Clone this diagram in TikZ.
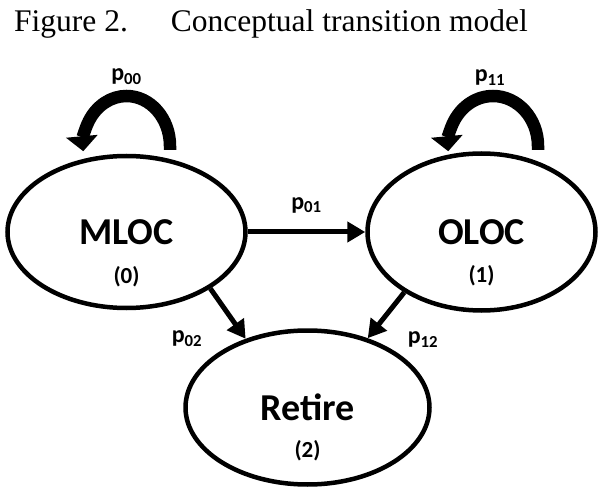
\documentclass[tikz,border=0pt]{standalone}
\usepackage{fontspec}
\setmainfont{Liberation Serif}
\newfontfamily\statefont{Carlito}
\usetikzlibrary{shapes,arrows.meta,positioning}

% transition probability label
\newcommand{\prob}[1]{p\textsubscript{#1}}

\begin{document}
\begin{tikzpicture}[x=1pt, y=1pt, node distance=355pt,
    state/.style={ellipse, draw, line width=4.5pt, minimum width=238pt, minimum height=152pt, inner sep=0pt, font=\statefont\bfseries\fontsize{38}{40}\selectfont},
    idx/.style={inner sep=0pt, font=\statefont\bfseries\fontsize{23}{25}\selectfont},
    prob/.style={inner sep=0pt, font=\statefont\bfseries\fontsize{24}{26}\selectfont},
    arrow/.style={-{Triangle[length=18pt, width=20pt]}, line width=5pt},
    selfloop/.style={-{Triangle[length=15pt, width=31pt]}, line width=12.5pt}]
  \useasboundingbox (0,0) rectangle (600,488);
  \node[anchor=base west, inner sep=0pt, font=\fontsize{31.5}{34}\selectfont] (title) at (14,456) {Figure 2.\hspace{43pt}Conceptual transition model};

  % states
  \node[state] (MLOC) at (126.5,256) {MLOC};
  \node[state, right of=MLOC, minimum width=228pt, minimum height=157pt] (OLOC) {OLOC};
  \node[state, below of=MLOC, node distance=175.5pt, xshift=181pt, minimum width=244pt, minimum height=154pt] (Retire) {Retire};
  \node[idx] (n0) at ([yshift=-45pt]MLOC.center) {(0)};
  \node[idx] (n1) at ([yshift=-44pt]OLOC.center) {(1)};
  \node[idx] (n2) at ([yshift=-43pt]Retire.center) {(2)};

  % staying in the same state
  \draw[selfloop] ([shift={(43.5,3.75)}]MLOC.north) -- ++(0,4) arc[start angle=0, end angle=186, x radius=43.5, y radius=50];
  \draw[selfloop] ([shift={(56.5,1.25)}]OLOC.north) -- ++(0,4) arc[start angle=0, end angle=186, x radius=45, y radius=50];
  \node[prob] (l00) at ([yshift=77pt]MLOC.north) {\prob{00}};
  \node[prob] (l11) at ([shift={(8.5,74)}]OLOC.north) {\prob{11}};

  % moving on
  \draw[arrow] (MLOC.east) -- (OLOC.west) node[prob, midway, yshift=27pt] (l01) {\prob{01}};
  \draw[arrow] (MLOC.-34) -- (Retire.132) node[prob, midway, xshift=-41pt, yshift=-25pt] (l02) {\prob{02}};
  \draw[arrow] (OLOC.-142) -- (Retire.49) node[prob, midway, xshift=37pt, yshift=-24pt] (l12) {\prob{12}};
\end{tikzpicture}
\end{document}
